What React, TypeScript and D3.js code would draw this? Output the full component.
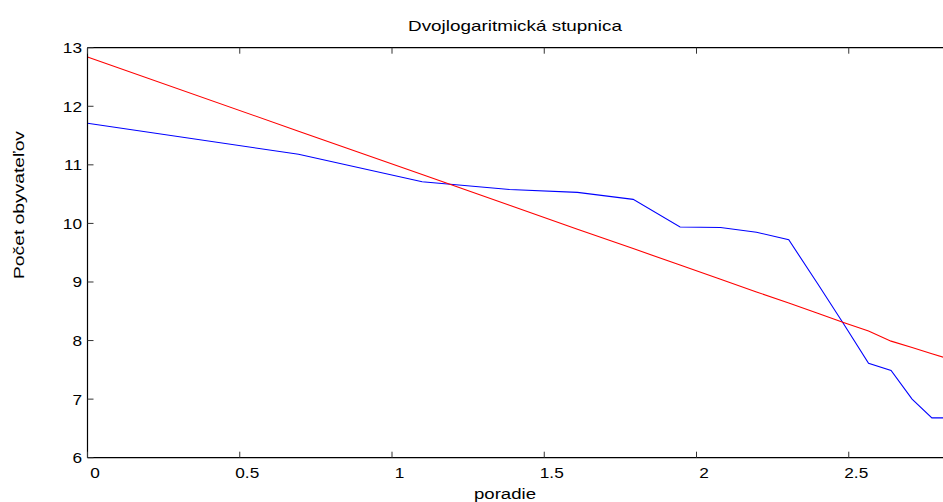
import React from "react";
import * as d3 from "d3";

const logRank: number[] = [0, 0.693, 1.099, 1.386, 1.609, 1.792, 1.946, 2.079, 2.197, 2.303, 2.398, 2.485, 2.565, 2.639, 2.708, 2.773, 2.833];
const population: number[] = [11.71, 11.18, 10.71, 10.58, 10.53, 10.41, 9.94, 9.93, 9.85, 9.72, 8.97, 8.27, 7.61, 7.49, 7.0, 6.68, 6.68];
const fit: number[] = [12.84, 11.575, 10.835, 10.31, 9.9, 9.57, 9.29, 9.045, 8.83, 8.64, 8.465, 8.305, 8.165, 7.99, 7.88, 7.775, 7.68];
const xTicks: number[] = [0, 0.5, 1, 1.5, 2, 2.5];
const xTickLabels: string[] = ["0", "0.5", "1", "1.5", "2", "2.5"];
const yTicks: number[] = [6, 7, 8, 9, 10, 11, 12, 13];
const title = "Dvojlogaritmická stupnica";
const xLabel = "poradie";
const yLabel = "Počet obyvateľov";

const W = 943;
const H = 502;
const left = 87.5;
const top = 47.7;
const bottom = 457.7;
const right = 1001; // axes extend past the window (cropped)

export default function App() {
  const x = d3.scaleLinear().domain([0, 3]).range([left, right]);
  const y = d3.scaleLinear().domain([6, 13]).range([bottom, top]);
  const line = d3
    .line<number>()
    .x((_, i) => x(logRank[i]))
    .y((d) => y(d));
  const font = "'Liberation Sans', Arial, Helvetica, sans-serif";
  const sx = 1.15;
  return (
    <div style={{ position: "absolute", left: 0, top: 0, width: W, height: H, overflow: "hidden", background: "#fff" }}>
      <svg width={W} height={H} style={{ display: "block" }} fontFamily={font}>
        <rect x={0} y={0} width={W} height={H} fill="#fff" />
        <text x={515} y={31} textAnchor="middle" fontSize={15} textLength={214} lengthAdjust="spacingAndGlyphs" fill="#000">
          {title}
        </text>
        <g>
          <path d={line(population) || ""} fill="none" stroke="#0000ff" strokeWidth={1.1} />
          <path d={line(fit) || ""} fill="none" stroke="#ff0000" strokeWidth={1.1} />
        </g>
        <g stroke="#000" strokeWidth={1.2} fill="none">
          <line x1={left} x2={right} y1={top} y2={top} />
          <line x1={left} x2={right} y1={bottom} y2={bottom} />
          <line x1={left} x2={left} y1={top} y2={bottom} />
        </g>
        {yTicks.map((t) => (
          <g key={"y" + t}>
            <line x1={left} x2={left + 6} y1={y(t)} y2={y(t)} stroke="#333" strokeWidth={1} />
            <g transform={`translate(${82},${y(t) + 5.5}) scale(${sx},1)`}>
              <text textAnchor="end" fontSize={15} fill="#000">{String(t)}</text>
            </g>
          </g>
        ))}
        {xTicks.map((t, i) => (
          <g key={"x" + t}>
            <line x1={x(t)} x2={x(t)} y1={bottom} y2={bottom - 6} stroke="#333" strokeWidth={1} />
            <line x1={x(t)} x2={x(t)} y1={top} y2={top + 6} stroke="#333" strokeWidth={1} />
            <g transform={`translate(${x(t) + 7.5},${478.3}) scale(${sx},1)`}>
              <text textAnchor="middle" fontSize={15} fill="#000">{xTickLabels[i]}</text>
            </g>
          </g>
        ))}
        <text x={505} y={499.3} textAnchor="middle" fontSize={15.4} textLength={62} lengthAdjust="spacingAndGlyphs" fill="#000">
          {xLabel}
        </text>
        <g transform={`translate(23.5,279) rotate(-90)`}>
          <text x={0} y={0} textAnchor="start" fontSize={15} textLength={148} lengthAdjust="spacingAndGlyphs" fill="#000">
            {yLabel}
          </text>
        </g>
      </svg>
    </div>
  );
}
